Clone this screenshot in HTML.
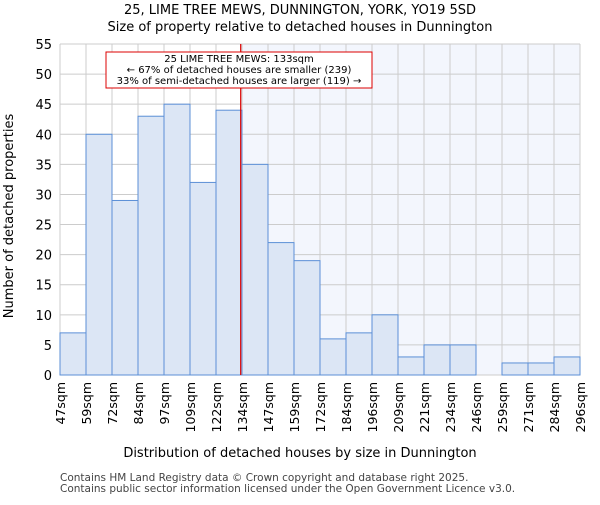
<!DOCTYPE html>
<html><head><meta charset="utf-8"><style>body{margin:0;background:#fff}svg{font-family:"DejaVu Sans","Liberation Sans",sans-serif}</style></head>
<body><svg id="c" width="600" height="500" xmlns="http://www.w3.org/2000/svg"></svg>
<script>
const labels=["47sqm","59sqm","72sqm","84sqm","97sqm","109sqm","122sqm","134sqm","147sqm","159sqm","172sqm","184sqm","196sqm","209sqm","221sqm","234sqm","246sqm","259sqm","271sqm","284sqm","296sqm"];
const counts=[7,40,29,43,45,32,44,35,22,19,6,7,10,3,5,5,0,2,2,3];
const yTicks=[0,5,10,15,20,25,30,35,40,45,50,55];
const markerBin=6.95;
const NS="http://www.w3.org/2000/svg",s=document.getElementById('c');
const X0=60,X1=580,Y0=375,Y1=44,bw=(X1-X0)/counts.length;
const x=i=>X0+i*bw, y=v=>Y0-(v/55)*(Y0-Y1);
function mk(t,a,txt){const e=document.createElementNS(NS,t);for(const k in a)e.setAttribute(k,a[k]);if(txt!=null)e.textContent=txt;s.appendChild(e);return e;}
let e;
e=mk('rect',{x:X0,y:Y1,width:X1-X0,height:Y0-Y1,fill:'#fff'});

e=mk('rect',{x:x(markerBin),y:Y1,width:X1-x(markerBin),height:Y0-Y1,fill:'#f3f6fd'});

yTicks.forEach(t=>{e=mk('line',{x1:X0,x2:X1,y1:y(t),y2:y(t),stroke:'#ccc'});

e=mk('text',{x:X0-8,y:y(t)+5,'text-anchor':'end','font-size':13},t);
});
labels.forEach((l,i)=>{e=mk('line',{x1:x(i),x2:x(i),y1:Y1,y2:Y0,stroke:'#ccc'});

e=mk('text',{transform:`translate(${x(i)+5},382) rotate(-90)`,'text-anchor':'end','font-size':12.5},l);
});
counts.forEach((c,i)=>{if(!c)return;e=mk('rect',{x:x(i),y:y(c),width:bw,height:Y0-y(c),fill:'#dce6f5',stroke:'#5b8fd6','stroke-width':1});
});
e=mk('line',{x1:x(markerBin),x2:x(markerBin),y1:Y1,y2:Y0,stroke:'#d00','stroke-width':1.2});

e=mk('rect',{x:106,y:52,width:266,height:36,fill:'#fff',stroke:'#d00'});

[["25 LIME TREE MEWS: 133sqm",62],["← 67% of detached houses are smaller (239)",73],["33% of semi-detached houses are larger (119) →",84]].forEach(a=>{
e=mk('text',{x:239,y:a[1],'text-anchor':'middle','font-size':10},a[0]);
});
e=mk('text',{x:300,y:14,'text-anchor':'middle','font-size':13},"25, LIME TREE MEWS, DUNNINGTON, YORK, YO19 5SD");

e=mk('text',{x:300,y:31,'text-anchor':'middle','font-size':13},"Size of property relative to detached houses in Dunnington");

e=mk('text',{x:300,y:457,'text-anchor':'middle','font-size':13},"Distribution of detached houses by size in Dunnington");

e=mk('text',{transform:'translate(13,216) rotate(-90)','text-anchor':'middle','font-size':13},"Number of detached properties");

e=mk('text',{x:60,y:481,'font-size':10.5,fill:'#444'},"Contains HM Land Registry data © Crown copyright and database right 2025.");

e=mk('text',{x:60,y:492,'font-size':10.5,fill:'#444'},"Contains public sector information licensed under the Open Government Licence v3.0.");

</script></body></html>
